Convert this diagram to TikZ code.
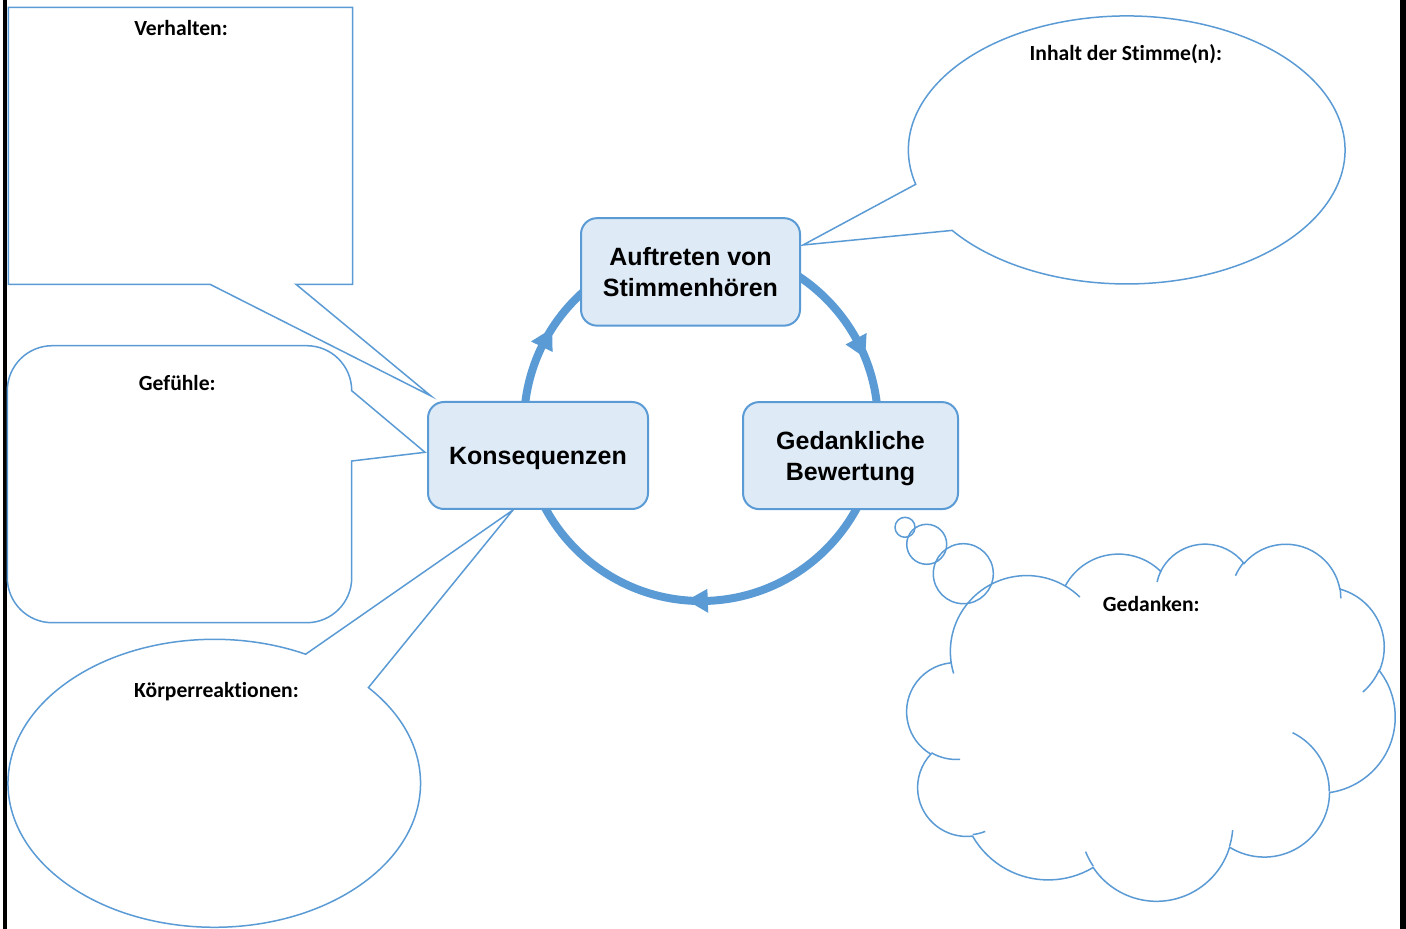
\documentclass[tikz,border=0pt]{standalone}
\usepackage{fontspec}
\setmainfont{Carlito}[Ligatures=CommonOff]
\newfontfamily\arialfont{Liberation Sans}
\usetikzlibrary{calc}
\definecolor{obl}{RGB}{91,155,213}
\definecolor{boxfill}{RGB}{222,235,247}
% OOXML-style arcTo: visual start angle / sweep -> parametric start / delta
\newcommand\ooarc[4]{%
  \pgfmathsetmacro\ooa{atan2((#1)*sin(#3),(#2)*cos(#3))}%
  \pgfmathsetmacro\oob{atan2((#1)*sin((#3)+(#4)),(#2)*cos((#3)+(#4)))}%
  \pgfmathsetmacro\ood{\oob-\ooa}%
  \pgfmathsetmacro\ood{\ood+360*round(((#4)-(\ood))/360)}%
  \global\let\ooa\ooa\global\let\ood\ood}
\begin{document}
\begin{tikzpicture}[x=0.5pt,y=-0.5pt,
  callout/.style={draw=obl, line width=0.75pt, fill=white, line join=miter},
  cloudline/.style={draw=obl, line width=0.75pt},
  cyclebox/.style={draw=obl, fill=boxfill, line width=1pt, rounded corners=8pt,
    inner sep=0pt, align=center, text depth=0pt, font=\arialfont\bfseries\fontsize{12.5}{15.5}\selectfont},
  lbl/.style={font=\bfseries\fontsize{10.8}{13}\selectfont, inner sep=0pt, anchor=base},
  ringline/.style={draw=obl, line width=4pt},
  tipfill/.style={fill=obl}]
\useasboundingbox (0,0) rectangle (1406,929);
\fill[white] (0,0) rectangle (1406,929);
\fill[black] (2.7,0) rectangle (6.7,929);
\fill[black] (1400,0) rectangle (1406,929);

% Verhalten callout
\draw[callout] (8.3,7.5) -- (352.7,7.5) -- (352.7,284.3) -- (296,284.3) -- (431,396)
  -- (210,284.3) -- (8.3,284.3) -- cycle;
\node[lbl] (verh) at (181,35.5) {Verhalten:};

% Gefuehle callout
\draw[callout] (52.3,345.7) -- (306.7,345.7) arc[start angle=-90, end angle=0, radius=45]
  -- (425,452.3) -- (351.7,461) -- (351.7,577.7) arc[start angle=0, end angle=90, radius=45]
  -- (52.3,622.7) arc[start angle=90, end angle=180, radius=45]
  -- (7.3,390.7) arc[start angle=180, end angle=270, radius=45] -- cycle;
\node[lbl] (gef) at (177.3,390.5) {Gefühle:};

% Koerperreaktionen callout
\draw[callout] (368.4,687.6) arc[start angle=-41.65, end angle=296.3, x radius=206.3, y radius=144]
  -- (513,510) -- cycle;
\node[lbl] (koer) at (216.5,697.5) {Körperreaktionen:};

% Inhalt callout
\draw[callout] (915.7,184.3) arc[start angle=165.15, end angle=503.1, x radius=218.3, y radius=134]
  -- (803,245) -- cycle;
\node[lbl] (inh) at (1125.8,60.5) {Inhalt der Stimme(n):};

% cycle ring
\coordinate (ctr) at (701,424);
\draw[ringline] (ctr) circle[radius=177];
\fill[tipfill] ($(ctr)+(-22:177)$) -- ($(ctr)+(-28.8:165)$) -- ($(ctr)+(-28.8:189)$) -- cycle;
\fill[tipfill] ($(ctr)+(-147.3:177)$) -- ($(ctr)+(-154.1:165)$) -- ($(ctr)+(-154.1:189)$) -- cycle;
\fill[tipfill] ($(ctr)+(-265.4:177)$) -- ($(ctr)+(-272.2:165)$) -- ($(ctr)+(-272.2:189)$) -- cycle;

% cycle boxes
\node[cyclebox, minimum width=109.5pt, minimum height=53.75pt] (auf) at (690.5,271.9) {Auftreten von\\Stimmenhören};
\node[cyclebox, minimum width=107.5pt, minimum height=53.5pt] (ged) at (850.5,455.6) {Gedankliche\\Bewertung};
\node[cyclebox, minimum width=110pt, minimum height=53.5pt] (kon) at (538,455.5) {Konsequenzen};

% thought bubbles
\draw[cloudline] (905,527.3) circle[radius=10];
\draw[cloudline] (926.7,544.3) circle[radius=20];
\draw[cloudline] (963.3,573.7) circle[radius=30];

% cloud
\begin{scope}[shift={(907,543)}, xscale=1.12963, yscale=0.826389]
\draw[cloudline] (39,143.7)
 \pgfextra{\ooarc{67.53}{91.90}{-190.48748}{123.78053}} arc[start angle=\ooa, delta angle=\ood, x radius=67.53, y radius=91.90]
 \pgfextra{\ooarc{53.33}{72.67}{-144.10238}{89.94523}} arc[start angle=\ooa, delta angle=\ood, x radius=53.33, y radius=72.67]
 \pgfextra{\ooarc{43.65}{59.45}{-145.80792}{99.72302}} arc[start angle=\ooa, delta angle=\ood, x radius=43.65, y radius=59.45]
 \pgfextra{\ooarc{48.57}{65.95}{-130.98607}{117.24173}} arc[start angle=\ooa, delta angle=\ood, x radius=48.57, y radius=65.95]
 \pgfextra{\ooarc{53.33}{72.73}{-78.70888}{109.02692}} arc[start angle=\ooa, delta angle=\ood, x radius=53.33, y radius=72.73]
 \pgfextra{\ooarc{67.75}{92.20}{-46.26725}{130.269}} arc[start angle=\ooa, delta angle=\ood, x radius=67.75, y radius=92.20]
 \pgfextra{\ooarc{57.85}{78.67}{0.62502}{114.03333}} arc[start angle=\ooa, delta angle=\ood, x radius=57.85, y radius=78.67]
 \pgfextra{\ooarc{67.52}{92.15}{22.4516}{115.17255}} arc[start angle=\ooa, delta angle=\ood, x radius=67.52, y radius=92.15]
 \pgfextra{\ooarc{77.20}{105.43}{66.24263}{75.71102}} arc[start angle=\ooa, delta angle=\ood, x radius=77.20, y radius=105.43]
 \pgfextra{\ooarc{43.60}{59.18}{-274.94208}{146.73557}} arc[start angle=\ooa, delta angle=\ood, x radius=43.60, y radius=59.18]
 \pgfextra{\ooarc{43.45}{59.45}{-246.8285}{152.51885}} arc[start angle=\ooa, delta angle=\ood, x radius=43.45, y radius=59.45]
 -- cycle;
\draw[cloudline]
 (46.93,261.77) \pgfextra{\ooarc{43.45}{59.45}{86.742}{26.4295}} arc[start angle=\ooa, delta angle=\ood, x radius=43.45, y radius=59.45]
 (69.28,348.99) \pgfextra{\ooarc{43.60}{59.18}{73.6105}{11.4475}} arc[start angle=\ooa, delta angle=\ood, x radius=43.60, y radius=59.18]
 (164.78,390.90) \pgfextra{\ooarc{67.52}{92.15}{137.6242}{14.0811}} arc[start angle=\ooa, delta angle=\ood, x radius=67.52, y radius=92.15]
 (288.27,347.51) \pgfextra{\ooarc{67.52}{92.15}{6.4533}{15.9984}} arc[start angle=\ooa, delta angle=\ood, x radius=67.52, y radius=92.15]
 (341.29,229.54) \pgfextra{\ooarc{57.85}{78.67}{-70.2924}{70.9174}} arc[start angle=\ooa, delta angle=\ood, x radius=57.85, y radius=78.67]
 (417.98,153.54) \pgfextra{\ooarc{53.33}{72.73}{30.318}{27.7515}} arc[start angle=\ooa, delta angle=\ood, x radius=53.33, y radius=72.73]
 (383.24,54.26) \pgfextra{\ooarc{48.57}{65.95}{-13.7443}{14.8589}} arc[start angle=\ooa, delta angle=\ood, x radius=48.57, y radius=65.95]
 (290.78,39.52) \pgfextra{\ooarc{48.57}{65.95}{-149.1815}{18.1954}} arc[start angle=\ooa, delta angle=\ood, x radius=48.57, y radius=65.95]
 (221.41,47.20) \pgfextra{\ooarc{43.65}{59.45}{-163.4943}{17.6864}} arc[start angle=\ooa, delta angle=\ood, x radius=43.65, y radius=59.45]
 (140.00,51.92) \pgfextra{\ooarc{67.53}{91.90}{-66.7070}{12.3194}} arc[start angle=\ooa, delta angle=\ood, x radius=67.53, y radius=91.90]
 (41.27,157.89) \pgfextra{\ooarc{67.53}{91.90}{157.6544}{11.8582}} arc[start angle=\ooa, delta angle=\ood, x radius=67.53, y radius=91.90];
\end{scope}
\node[lbl] (ged-lbl) at (1151.2,611.5) {Gedanken:};
\end{tikzpicture}
\end{document}
